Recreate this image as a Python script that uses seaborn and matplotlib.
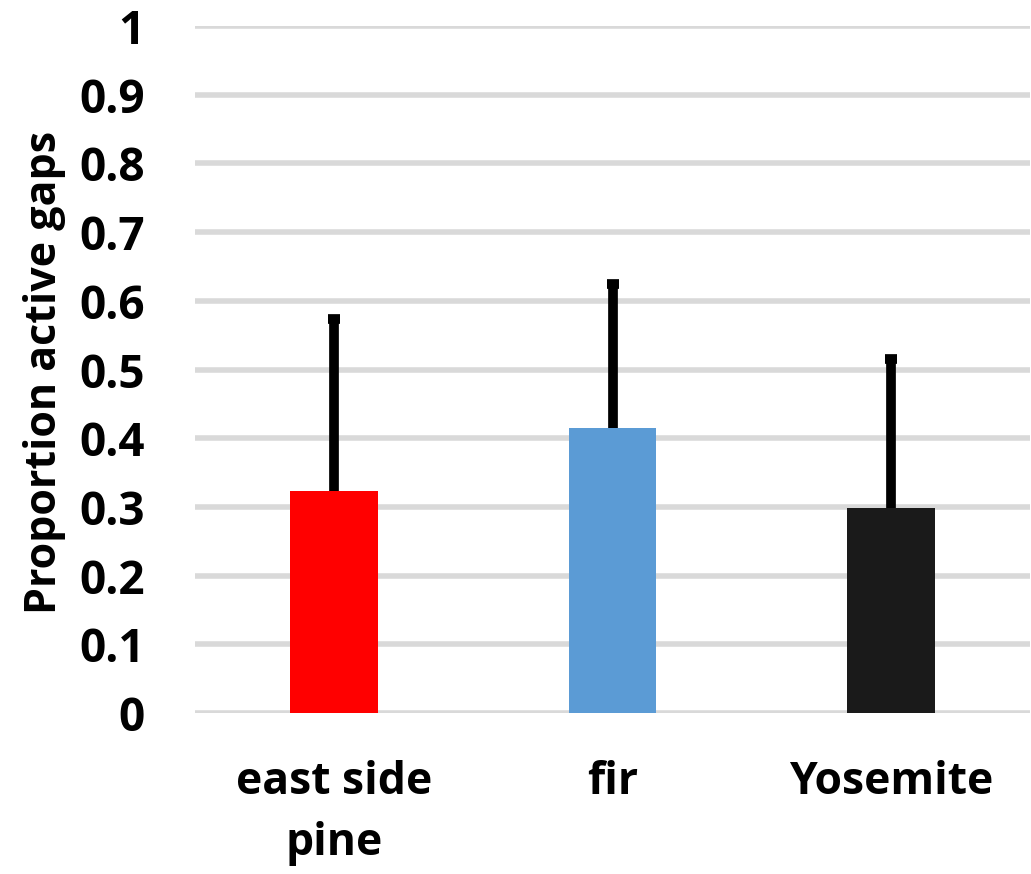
import matplotlib
matplotlib.use("Agg")
import matplotlib.pyplot as plt
import seaborn as sns
import pandas as pd

# values
sites = ["east side\npine", "fir", "Yosemite"]
proportion = [0.323, 0.415, 0.298]
err_up = [0.250, 0.210, 0.218]
bar_colors = ["#ff0000", "#5b9bd5", "#1a1a1a"]
y_ticks = [0, 0.1, 0.2, 0.3, 0.4, 0.5, 0.6, 0.7, 0.8, 0.9, 1]
y_tick_labels = ["0", "0.1", "0.2", "0.3", "0.4", "0.5", "0.6", "0.7", "0.8", "0.9", "1"]

df = pd.DataFrame({"site": sites, "proportion": proportion})

sns.set_style("white")
plt.rcParams["font.family"] = ["Open Sans", "DejaVu Sans"]
plt.rcParams["font.weight"] = "bold"
plt.rcParams["text.color"] = "black"
plt.rcParams["xtick.color"] = "black"
plt.rcParams["ytick.color"] = "black"
plt.rcParams["axes.labelcolor"] = "black"

fig = plt.figure(figsize=(10.31, 8.74), dpi=100)
ax = fig.add_axes([195 / 1031, 1 - 713 / 874, 835 / 1031, 687 / 874])

sns.barplot(data=df, x="site", y="proportion", hue="site", palette=bar_colors,
            saturation=1, width=0.316, legend=False, linewidth=0, ax=ax, zorder=3)

# upper error bars only, with a small square cap on top
xpos = list(range(len(sites)))
tops = [p + e for p, e in zip(proportion, err_up)]
ax.errorbar(xpos, proportion, yerr=[[0] * len(sites), err_up],
            fmt="none", ecolor="black", elinewidth=7, capsize=0, zorder=4)
ax.plot(xpos, tops, ls="none", marker="_", ms=9, mew=7, color="black", zorder=5)

ax.set_ylim(0, 1)
ax.set_xlim(-0.5, 2.5)
ax.set_yticks(y_ticks)
ax.set_yticklabels(y_tick_labels, fontsize=33, fontweight="bold")
ax.tick_params(axis="x", labelsize=32, pad=34, length=0)
ax.tick_params(axis="y", length=0, pad=36)
for lbl in ax.get_xticklabels():
    lbl.set_fontweight("bold")
    lbl.set_linespacing(1.45)

ax.yaxis.grid(True, color="#d9d9d9", linewidth=4, zorder=0)
ax.set_axisbelow(True)
for s in ax.spines.values():
    s.set_visible(False)
ax.axhline(0, color="#d9d9d9", linewidth=1.5, zorder=1)

ax.set_xlabel("")
ax.set_ylabel("Proportion active gaps", fontsize=31, fontweight="bold")
ax.yaxis.set_label_coords(-0.155, 0.495)

fig.savefig("out.png", dpi=100)
